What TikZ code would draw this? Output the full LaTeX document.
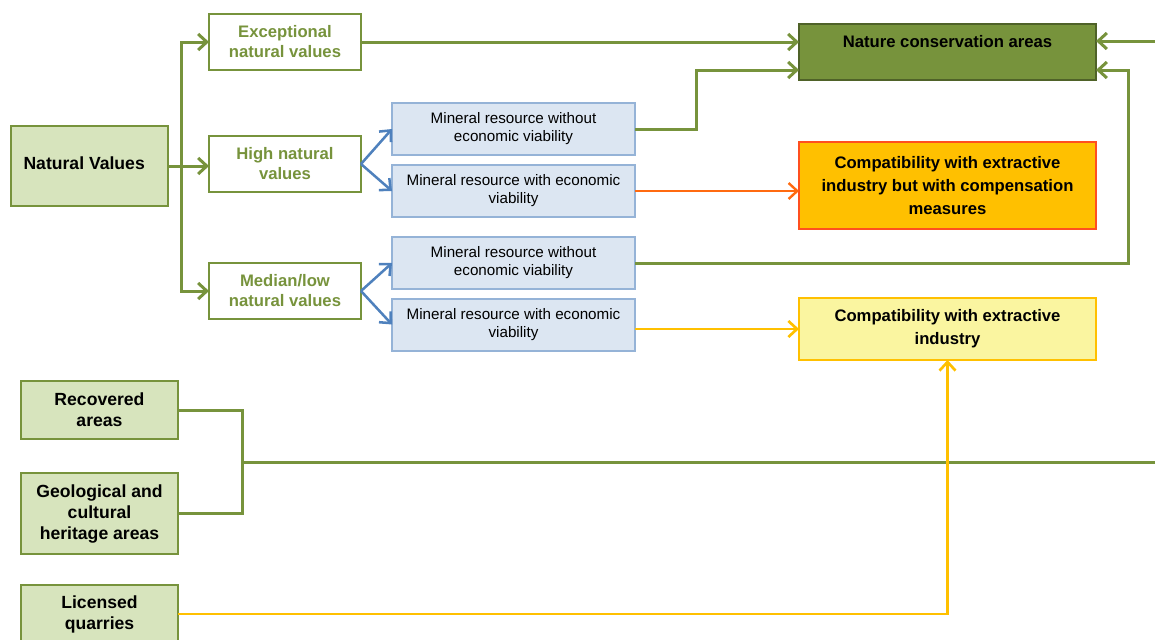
\documentclass[tikz,border=0pt]{standalone}
\usepackage{fontspec}
\setmainfont{Liberation Sans}
\usetikzlibrary{arrows.meta}

\definecolor{leafgreen}{HTML}{77933C}
\definecolor{darkleaf}{HTML}{4F6228}
\definecolor{paleleaf}{HTML}{D7E4BD}
\definecolor{paleblue}{HTML}{DCE6F2}
\definecolor{edgeblue}{HTML}{95B3D7}
\definecolor{arrowblue}{HTML}{4F81BD}
\definecolor{amber}{HTML}{FFC000}
\definecolor{redorange}{HTML}{FF4F1F}
\definecolor{flame}{HTML}{FF6A10}
\definecolor{paleyellow}{HTML}{FAF5A0}

\begin{document}
\begin{tikzpicture}[x=0.75pt,y=-0.75pt,
  box/.style={draw, line width=1.5pt, inner sep=0pt, outer sep=0pt, align=center},
  sourcebox/.style={box, draw=leafgreen, fill=paleleaf, minimum width=117.75pt,
    font=\fontsize{13.2}{15.75}\selectfont\bfseries},
  valuebox/.style={box, draw=leafgreen, fill=white, text=leafgreen,
    minimum width=114pt, minimum height=42pt,
    font=\fontsize{12.5}{15}\selectfont\bfseries},
  mineralbox/.style={box, draw=edgeblue, fill=paleblue, minimum width=182.25pt,
    minimum height=39pt, font=\fontsize{11.4}{13.5}\selectfont},
  outcomebox/.style={box, minimum width=222.75pt,
    font=\fontsize{12.5}{17.5}\selectfont\bfseries},
  tip/.style={-{Straight Barb[length=6.5pt,width=12pt]}},
  greenline/.style={draw=leafgreen, line width=2.25pt},
  blueline/.style={draw=arrowblue, line width=1.9pt},
]
\useasboundingbox (0,0) rectangle (1155,639);

% source and value classes
\node[sourcebox, minimum height=60pt] (nat) at (89.5,166) {Natural Values\hspace*{8pt}\\[-11pt]\mbox{}};
\node[valuebox] (exc)  at (285,42)  {Exceptional\\natural values};
\node[valuebox] (high) at (285,164) {High natural\\values};
\node[valuebox] (med)  at (285,291) {Median/low\\natural values};

% mineral resource boxes
\node[mineralbox] (b1) at (513.5,129)   {Mineral resource without\\economic viability};
\node[mineralbox] (b2) at (513.5,191)   {Mineral resource with economic\\viability};
\node[mineralbox] (b3) at (513.5,263)   {Mineral resource without\\economic viability};
\node[mineralbox] (b4) at (513.5,324.5) {Mineral resource with economic\\viability};

% outcome boxes
\node[outcomebox, draw=darkleaf, fill=leafgreen, minimum height=42pt,
      font=\fontsize{12.5}{16.5}\selectfont\bfseries]
  (nca) at (947.5,52) {Nature conservation areas\\\mbox{}};
\node[outcomebox, draw=redorange, fill=amber, minimum height=65.25pt]
  (comp) at (947.5,185.5) {Compatibility with extractive\\industry but with compensation\\measures};
\node[outcomebox, draw=amber, fill=paleyellow, minimum height=46.5pt]
  (ext) at (947.5,329) {Compatibility with extractive\\industry};

% other area types
\node[sourcebox, minimum height=43.5pt]  (rec) at (99.5,410)   {Recovered\\areas};
\node[sourcebox, minimum height=60.75pt] (geo) at (99.5,513.5) {Geological and\\cultural\\heritage areas};
\node[sourcebox, minimum height=43.5pt]  (lic) at (99.5,614)   {Licensed\\quarries};

% branching of natural values
\coordinate (fork) at (181,166);
\draw[greenline, tip] (nat.east) -- (nat.east -| high.west);
\draw[greenline, tip] (fork) |- (exc.west);
\draw[greenline, tip] (fork) |- (med.west);

\draw[blueline, tip] (high.east) -- (b1.west);
\draw[blueline, tip] (high.east) -- (b2.west);
\draw[blueline, tip] (med.east) -- (b3.west);
\draw[blueline, tip] (med.east) -- (b4.west);

% links to the outcomes
\draw[greenline, tip] (exc.east) -- (exc.east -| nca.west);
\draw[greenline, tip] (b1.east) -- ++(61,0) |- ([yshift=-13.5pt]nca.west);
\draw[draw=flame, line width=1.8pt, tip] (b2.east) -- (b2.east -| comp.west);
\draw[greenline, tip] (b3.east) -- ++(493,0) |- ([yshift=-13.5pt]nca.east);
\draw[draw=amber, line width=2pt, tip] (ext.west -| b4.east) -- (ext.west);

\coordinate (rightin) at (1160,41);
\draw[greenline, tip] (rightin) -- (rightin -| nca.east);

% recovered and heritage areas
\coordinate (join) at (242,462);
\coordinate (rightout) at (1160,462);
\draw[greenline] (rec.east) -| (join) |- (geo.east);
\draw[greenline] (join) -- (rightout);

% licensed quarries
\draw[draw=amber, line width=2pt, tip] (lic.east) -| (ext.south);
\end{tikzpicture}
\end{document}
